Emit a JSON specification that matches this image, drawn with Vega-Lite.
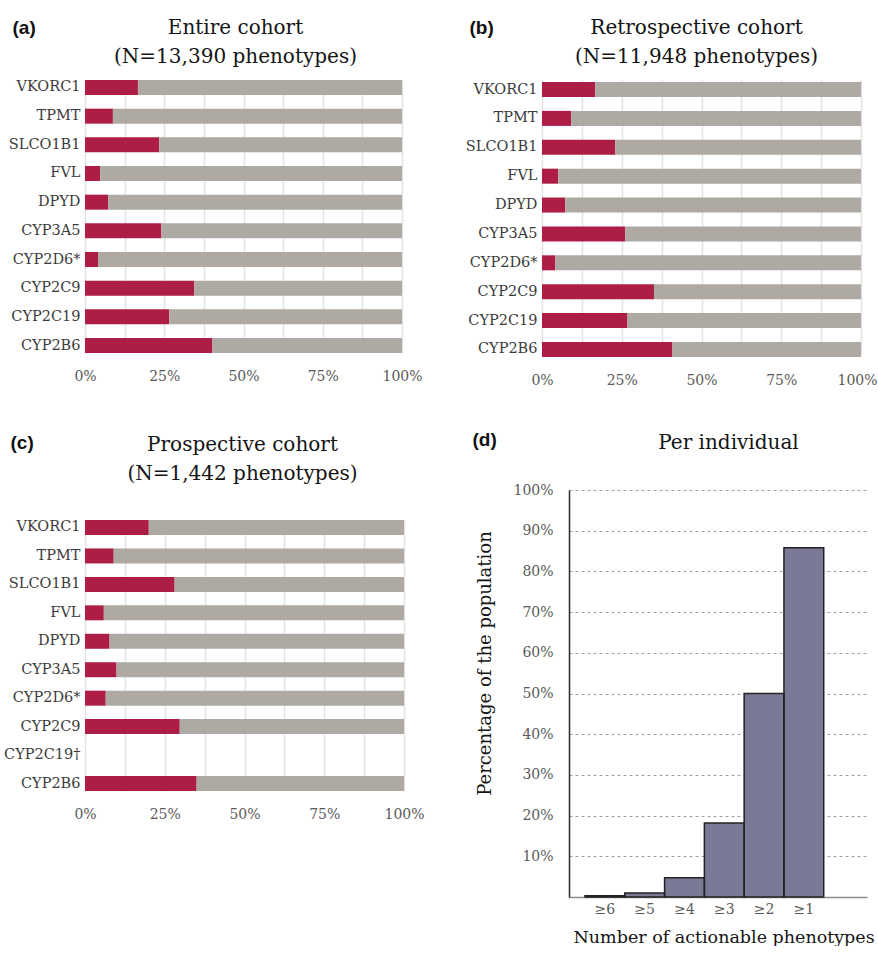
{
  "$schema": "https://vega.github.io/schema/vega-lite/v6.json",
  "background": "white",
  "padding": {"left": 3, "top": 17, "right": 0, "bottom": 0},
  "config": {
    "view": {"stroke": null},
    "axis": {"labelFont": "DejaVu Serif", "titleFont": "DejaVu Serif", "titleFontWeight": "normal", "titleColor": "#141414", "labelFlush": false}
  },
  "datasets": {
    "entire": [
      {"gene": "VKORC1", "actionable": 0.167},
      {"gene": "TPMT", "actionable": 0.088},
      {"gene": "SLCO1B1", "actionable": 0.234},
      {"gene": "FVL", "actionable": 0.048},
      {"gene": "DPYD", "actionable": 0.073},
      {"gene": "CYP3A5", "actionable": 0.241},
      {"gene": "CYP2D6*", "actionable": 0.041},
      {"gene": "CYP2C9", "actionable": 0.345},
      {"gene": "CYP2C19", "actionable": 0.266},
      {"gene": "CYP2B6", "actionable": 0.402}
    ],
    "retrospective": [
      {"gene": "VKORC1", "actionable": 0.167},
      {"gene": "TPMT", "actionable": 0.092},
      {"gene": "SLCO1B1", "actionable": 0.23},
      {"gene": "FVL", "actionable": 0.051},
      {"gene": "DPYD", "actionable": 0.073},
      {"gene": "CYP3A5", "actionable": 0.261},
      {"gene": "CYP2D6*", "actionable": 0.042},
      {"gene": "CYP2C9", "actionable": 0.351},
      {"gene": "CYP2C19", "actionable": 0.268},
      {"gene": "CYP2B6", "actionable": 0.409}
    ],
    "prospective": [
      {"gene": "VKORC1", "actionable": 0.2},
      {"gene": "TPMT", "actionable": 0.09},
      {"gene": "SLCO1B1", "actionable": 0.281},
      {"gene": "FVL", "actionable": 0.059},
      {"gene": "DPYD", "actionable": 0.077},
      {"gene": "CYP3A5", "actionable": 0.099},
      {"gene": "CYP2D6*", "actionable": 0.065},
      {"gene": "CYP2C9", "actionable": 0.297},
      {"gene": "CYP2B6", "actionable": 0.35}
    ],
    "perIndividual": [
      {"count": "≥6", "share": 0.003},
      {"count": "≥5", "share": 0.01},
      {"count": "≥4", "share": 0.047},
      {"count": "≥3", "share": 0.182},
      {"count": "≥2", "share": 0.5},
      {"count": "≥1", "share": 0.858}
    ]
  },
  "spacing": 43,
  "vconcat": [
    {
      "spacing": 42,
      "hconcat": [
        {
          "width": 317,
          "height": 273,
          "data": {"name": "entire"},
          "encoding": {
            "y": {
              "field": "gene", "type": "nominal", "sort": null,
              "scale": {"domain": ["VKORC1", "TPMT", "SLCO1B1", "FVL", "DPYD", "CYP3A5", "CYP2D6*", "CYP2C9", "CYP2C19", "CYP2B6"], "paddingInner": 0.477, "paddingOuter": 0},
              "axis": {
                "title": "(a)", "titleAngle": 0, "titleAlign": "left", "titleBaseline": "alphabetic",
                "titleX": -73, "titleY": -47, "titleFont": "Liberation Sans", "titleFontWeight": "bold", "titleFontSize": 19, "titleColor": "#111111",
                "labelFontSize": 14.5, "labelColor": "#3b3b3b", "labelPadding": 5, "ticks": false, "domain": false, "grid": false
              }
            }
          },
          "layer": [
            {
              "mark": {"type": "bar", "color": "#AD1D45"},
              "encoding": {
                "x": {
                  "field": "actionable", "type": "quantitative",
                  "scale": {"domain": [0, 1], "nice": false},
                  "axis": {
                    "orient": "bottom", "title": null,
                    "values": [0, 0.125, 0.25, 0.375, 0.5, 0.625, 0.75, 0.875, 1],
                    "format": ".0%", "labelExpr": "datum.value * 8 % 2 == 0 ? datum.label : ''", "labelOverlap": false,
                    "labelFontSize": 14, "labelColor": "#595959", "labelPadding": 16,
                    "ticks": false, "domain": false, "grid": true, "gridColor": "#e3e3e3", "gridWidth": 1.5
                  }
                }
              }
            },
            {
              "mark": {"type": "bar", "color": "#AEA9A3"},
              "encoding": {
                "x": {
                  "field": "actionable", "type": "quantitative",
                  "axis": {
                    "orient": "top", "title": ["Entire cohort", "(N=13,390 phenotypes)"],
                    "labels": false, "ticks": false, "domain": false, "grid": false,
                    "titleFontSize": 20, "titleLineHeight": 29, "titleAlign": "center", "titleBaseline": "alphabetic",
                    "titleX": 150, "titleY": -47
                  }
                },
                "x2": {"datum": 1}
              }
            }
          ],
          "resolve": {"axis": {"x": "independent"}}
        },
        {
          "width": 319,
          "height": 277,
          "data": {"name": "retrospective"},
          "encoding": {
            "y": {
              "field": "gene", "type": "nominal", "sort": null,
              "scale": {"domain": ["VKORC1", "TPMT", "SLCO1B1", "FVL", "DPYD", "CYP3A5", "CYP2D6*", "CYP2C9", "CYP2C19", "CYP2B6"], "range": [2, 277], "paddingInner": 0.48, "paddingOuter": 0},
              "axis": {
                "title": "(b)", "titleAngle": 0, "titleAlign": "left", "titleBaseline": "alphabetic",
                "titleX": -73, "titleY": -47, "titleFont": "Liberation Sans", "titleFontWeight": "bold", "titleFontSize": 19, "titleColor": "#111111",
                "labelFontSize": 14.5, "labelColor": "#3b3b3b", "labelPadding": 5, "ticks": false, "domain": false, "grid": false
              }
            }
          },
          "layer": [
            {
              "mark": {"type": "bar", "color": "#AD1D45"},
              "encoding": {
                "x": {
                  "field": "actionable", "type": "quantitative",
                  "scale": {"domain": [0, 1], "nice": false},
                  "axis": {
                    "orient": "bottom", "title": null,
                    "values": [0, 0.125, 0.25, 0.375, 0.5, 0.625, 0.75, 0.875, 1],
                    "format": ".0%", "labelExpr": "datum.value * 8 % 2 == 0 ? datum.label : ''", "labelOverlap": false,
                    "labelOffset": {"condition": {"test": "datum.value == 1", "value": -4}, "value": 0},
                    "labelFontSize": 14, "labelColor": "#595959", "labelPadding": 16,
                    "ticks": false, "domain": false, "grid": true, "gridColor": "#e3e3e3", "gridWidth": 1.5
                  }
                }
              }
            },
            {
              "mark": {"type": "bar", "color": "#AEA9A3"},
              "encoding": {
                "x": {
                  "field": "actionable", "type": "quantitative",
                  "axis": {
                    "orient": "top", "title": ["Retrospective cohort", "(N=11,948 phenotypes)"],
                    "labels": false, "ticks": false, "domain": false, "grid": false,
                    "titleFontSize": 20, "titleLineHeight": 29, "titleAlign": "center", "titleBaseline": "alphabetic",
                    "titleX": 154, "titleY": -47
                  }
                },
                "x2": {"datum": 1}
              }
            }
          ],
          "resolve": {"axis": {"x": "independent"}}
        }
      ]
    },
    {
      "spacing": 47,
      "hconcat": [
        {
          "width": 319,
          "height": 271,
          "data": {"name": "prospective"},
          "encoding": {
            "y": {
              "field": "gene", "type": "nominal", "sort": null,
              "scale": {"domain": ["VKORC1", "TPMT", "SLCO1B1", "FVL", "DPYD", "CYP3A5", "CYP2D6*", "CYP2C9", "CYP2C19†", "CYP2B6"], "paddingInner": 0.473, "paddingOuter": 0},
              "axis": {
                "title": "(c)", "titleAngle": 0, "titleAlign": "left", "titleBaseline": "alphabetic",
                "titleX": -75, "titleY": -72, "titleFont": "Liberation Sans", "titleFontWeight": "bold", "titleFontSize": 19, "titleColor": "#111111",
                "labelFontSize": 14.5, "labelColor": "#3b3b3b", "labelPadding": 5, "ticks": false, "domain": false, "grid": false
              }
            }
          },
          "layer": [
            {
              "mark": {"type": "bar", "color": "#AD1D45"},
              "encoding": {
                "x": {
                  "field": "actionable", "type": "quantitative",
                  "scale": {"domain": [0, 1], "nice": false},
                  "axis": {
                    "orient": "bottom", "title": null,
                    "values": [0, 0.125, 0.25, 0.375, 0.5, 0.625, 0.75, 0.875, 1],
                    "format": ".0%", "labelExpr": "datum.value * 8 % 2 == 0 ? datum.label : ''", "labelOverlap": false,
                    "labelFontSize": 14, "labelColor": "#595959", "labelPadding": 16,
                    "ticks": false, "domain": false, "grid": true, "gridColor": "#e3e3e3", "gridWidth": 1.5
                  }
                }
              }
            },
            {
              "mark": {"type": "bar", "color": "#AEA9A3"},
              "encoding": {
                "x": {
                  "field": "actionable", "type": "quantitative",
                  "axis": {
                    "orient": "top", "title": ["Prospective cohort", "(N=1,442 phenotypes)"],
                    "labels": false, "ticks": false, "domain": false, "grid": false,
                    "titleFontSize": 20, "titleLineHeight": 29, "titleAlign": "center", "titleBaseline": "alphabetic",
                    "titleX": 157, "titleY": -70
                  }
                },
                "x2": {"datum": 1}
              }
            }
          ],
          "resolve": {"axis": {"x": "independent"}}
        },
        {
          "width": 298,
          "height": 377,
          "data": {"name": "perIndividual"},
          "encoding": {
            "x": {
              "field": "count", "type": "ordinal", "sort": null,
              "scale": {"domain": ["≥6", "≥5", "≥4", "≥3", "≥2", "≥1"], "paddingInner": 0, "paddingOuter": 0.745, "align": 0.27}
            },
            "y": {
              "field": "share", "type": "quantitative",
              "scale": {"domain": [0, 1], "nice": false, "range": [377, -30]}
            }
          },
          "layer": [
            {
              "mark": {"type": "bar", "color": "#7A7A97"},
              "encoding": {
                "x": {
                  "field": "count", "type": "ordinal", "sort": null,
                  "axis": {
                    "orient": "bottom", "labelAngle": 0, "labelFontSize": 14, "labelColor": "#595959", "labelPadding": 5,
                    "ticks": false, "domain": true, "domainColor": "#8c8c8c", "domainWidth": 1.5, "grid": false,
                    "title": "Number of actionable phenotypes", "titleFontSize": 17.5, "titleAlign": "left", "titleBaseline": "alphabetic",
                    "titleX": 4, "titleY": 45
                  }
                },
                "y": {
                  "field": "share", "type": "quantitative",
                  "axis": {
                    "orient": "left", "values": [0.1, 0.2, 0.3, 0.4, 0.5, 0.6, 0.7, 0.8, 0.9, 1],
                    "format": ".0%", "labelFontSize": 14, "labelColor": "#595959", "labelPadding": 16,
                    "ticks": false, "domain": true, "domainColor": "#2a2a2a", "domainWidth": 1.5,
                    "grid": true, "gridDash": [3, 3], "gridColor": "#a0a0a0", "gridWidth": 1,
                    "title": "Percentage of the population", "titleFontSize": 18, "titleAngle": 270, "titleAlign": "center", "titleBaseline": "middle",
                    "titleX": -84, "titleY": 143
                  }
                }
              }
            },
            {
              "mark": {"type": "bar", "filled": false, "color": "#222222", "strokeWidth": 1.5},
              "encoding": {
                "x": {
                  "field": "count", "type": "ordinal", "sort": null,
                  "axis": {
                    "orient": "top", "labels": false, "ticks": false, "domain": false, "grid": false,
                    "title": "(d)", "titleAngle": 0, "titleAlign": "left", "titleBaseline": "alphabetic",
                    "titleX": -97, "titleY": -75, "titleFont": "Liberation Sans", "titleFontWeight": "bold", "titleFontSize": 19, "titleColor": "#111111"
                  }
                },
                "y": {
                  "field": "share", "type": "quantitative",
                  "axis": {
                    "orient": "right", "labels": false, "ticks": false, "domain": false, "grid": false,
                    "title": "Per individual", "titleAngle": 0, "titleAlign": "center", "titleBaseline": "alphabetic",
                    "titleFontSize": 20, "titleX": -139, "titleY": -72
                  }
                }
              }
            }
          ],
          "resolve": {"axis": {"x": "independent", "y": "independent"}}
        }
      ]
    }
  ]
}
